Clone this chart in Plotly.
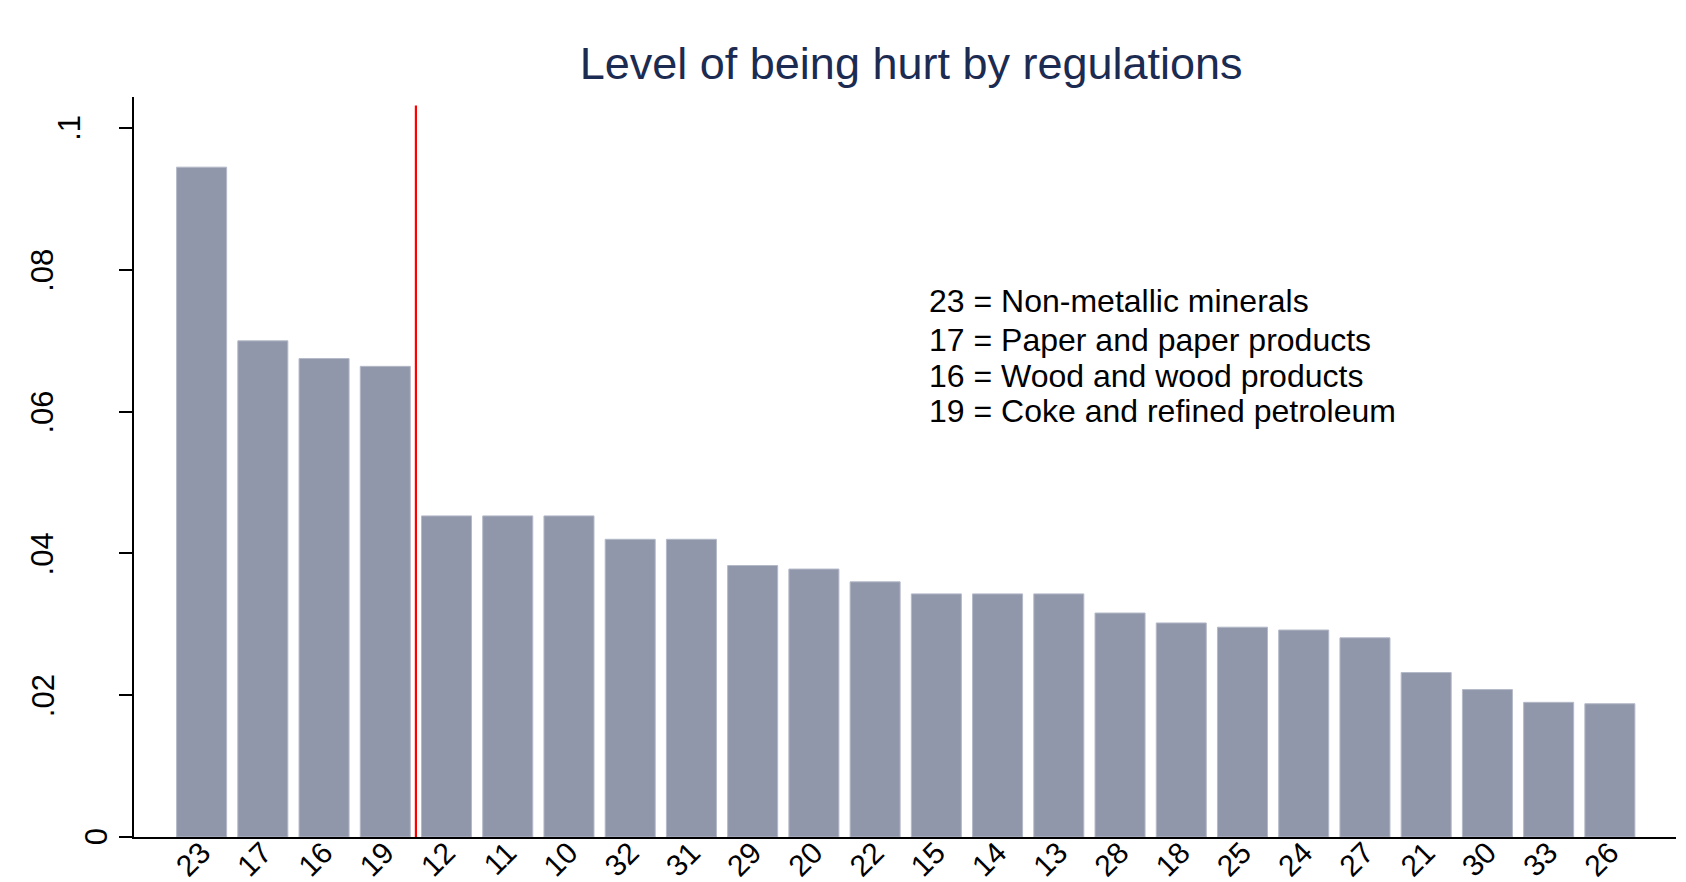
import plotly.graph_objects as go

# ---- data ----
categories = ['23', '17', '16', '19', '12', '11', '10', '32', '31', '29', '20', '22',
              '15', '14', '13', '28', '18', '25', '24', '27', '21', '30', '33', '26']
values = [0.0945, 0.0700, 0.0675, 0.0664, 0.0453, 0.0453, 0.0453, 0.0420, 0.0420,
          0.0383, 0.0378, 0.0360, 0.0343, 0.0343, 0.0343, 0.0316, 0.0302, 0.0296,
          0.0292, 0.0281, 0.0232, 0.0208, 0.0190, 0.0188]
n_highlight = 4  # top industries separated by the red line
y_tick_vals = [0, 0.02, 0.04, 0.06, 0.08, 0.1]
y_tick_text = ['0', '.02', '.04', '.06', '.08', '.1']
legend_lines = ['23 = Non-metallic minerals',
                '17 = Paper and paper products',
                '16 = Wood and wood products',
                '19 = Coke and refined petroleum']
legend_y = [0.0756, 0.0701, 0.0650, 0.0601]

FONT = 'Liberation Sans, Arial, sans-serif'
BAR_COLOR = '#9097aa'
Y_MAX = 0.1044

fig = go.Figure()
fig.add_trace(go.Bar(
    x=categories, y=values,
    marker=dict(color=BAR_COLOR, line=dict(color='#b4b9c8', width=1)),
    hoverinfo='x+y',
))

# vertical red separator between highlighted and other industries
fig.add_shape(type='line', xref='x', yref='y',
              x0=n_highlight - 0.5, x1=n_highlight - 0.5,
              y0=-0.0004, y1=0.1032,
              line=dict(color='#ff0000', width=2.2), layer='above')

annotations = []
# y tick labels (rotated, Stata-like placement)
for v, t in zip(y_tick_vals, y_tick_text):
    annotations.append(dict(
        x=0, xref='paper', y=v, yref='y', text=t, showarrow=False,
        textangle=-90, xanchor='center', yanchor='middle',
        xshift=-(11 + 26.7 * len(t)),
        font=dict(family=FONT, size=31, color='black')))

# legend text lines
for line, yv in zip(legend_lines, legend_y):
    annotations.append(dict(
        x=(926 - 134) / 1541, xref='paper', y=yv, yref='y', text=line,
        showarrow=False, xanchor='left', yanchor='middle',
        font=dict(family=FONT, size=32, color='black')))

fig.update_layout(
    width=1686, height=882,
    margin=dict(l=134, r=10, t=97, b=45, pad=0),
    paper_bgcolor='white', plot_bgcolor='white',
    showlegend=False,
    bargap=0.183,
    title=dict(text='Level of being hurt by regulations',
               font=dict(family=FONT, size=45, color='#1c2b52'),
               x=0.504, xref='paper', xanchor='center',
               y=1 - 63 / 882, yref='container', yanchor='middle'),
    xaxis=dict(type='category', range=[-1.104, 24.08], automargin=False,
               showline=True, linecolor='black', linewidth=2,
               ticks='', showgrid=False, zeroline=False,
               ticklabelstandoff=-16,
               tickangle=-45, tickfont=dict(family=FONT, size=30, color='black')),
    yaxis=dict(range=[0, Y_MAX], tickvals=y_tick_vals, automargin=False,
               showticklabels=False,
               ticks='outside', ticklen=13, tickwidth=2, tickcolor='black',
               showline=True, linecolor='black', linewidth=2,
               showgrid=False, zeroline=False),
    annotations=annotations,
)

fig.write_html('out.html', config={'displayModeBar': False},
               post_script="document.body.style.margin='0';document.body.style.overflow='hidden';")
